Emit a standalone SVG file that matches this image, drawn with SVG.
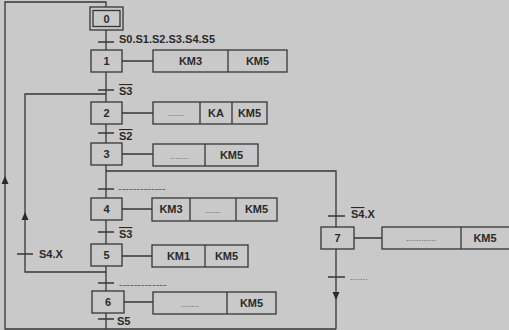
<svg xmlns="http://www.w3.org/2000/svg" width="509" height="330" viewBox="0 0 509 330">
<style>
.ln{fill:none;stroke:#363636;stroke-width:1.3}
.bx{fill:#c9c9c9;stroke:#363636;stroke-width:1.3}
.t{font-family:"Liberation Sans",Arial,sans-serif;font-weight:bold;font-size:11px;fill:#2a2a2a}
.c{text-anchor:middle}
.d{font-family:"Liberation Sans",Arial,sans-serif;font-size:9px;fill:#5e5e5e;text-anchor:middle}
.ds{font-family:"Liberation Sans",Arial,sans-serif;font-size:11px;fill:#5e5e5e}
.ah{fill:#2a2a2a}
.ov{text-decoration:overline}
</style>
<rect width="509" height="330" fill="#c9c9c9"/>
<g id="connectors">
  <path class="ln" d="M106,7 V2 H5 V329 H336"/>
  <path class="ln" d="M106,30 V329"/>
  <path class="ln" d="M106,171 H336 V329"/>
  <path class="ln" d="M106,272 H25 V94 H106"/>
  <path class="ah" d="M5,176 L8.5,184 L1.5,184 Z"/>
  <path class="ah" d="M25,212 L28.5,220 L21.5,220 Z"/>
  <path class="ah" d="M336,300 L332.5,292 L339.5,292 Z"/>
  <path class="ln" d="M98,42 H114 M98,90 H114 M98,133 H114 M98,189 H114 M98,232 H114 M98,283 H114 M98,319 H114 M17,254 H33 M328,216 H345 M328,277 H345"/>
  <path class="ln" d="M122,61 H153 M122,113 H153 M122,154 H153 M122,209 H152 M122,256 H152 M124,302 H153 M354,238 H382"/>
</g>
<g id="transition-labels">
  <text class="t" x="119" y="43">S0.S1.S2.S3.S4.S5</text>
  <text class="t ov" x="119" y="95">S3</text>
  <text class="t ov" x="119" y="140">S2</text>
  <text class="ds" x="118" y="192">-------------</text>
  <text class="t ov" x="119" y="238">S3</text>
  <text class="ds" x="119" y="288">-------------</text>
  <text class="t" x="117" y="325">S5</text>
  <text class="t" x="39" y="258">S4.X</text>
  <text class="t" x="351" y="218"><tspan class="ov">S4</tspan>.X</text>
  <text class="d" x="350" y="280" style="text-anchor:start">.......</text>
</g>
<g id="step0">
  <rect class="bx" x="90" y="7" width="33" height="23"/>
  <rect class="bx" x="93" y="10.5" width="27" height="16"/>
  <text class="t c" x="106.5" y="23">0</text>
</g>
<g id="step1">
  <rect class="bx" x="91" y="50" width="31" height="22"/>
  <text class="t c" x="106.5" y="65">1</text>
</g>
<g id="action1">
  <rect class="bx" x="153" y="50" width="134" height="22"/>
  <path class="ln" d="M228,50 V72"/>
  <text class="t c" x="190.5" y="65">KM3</text>
  <text class="t c" x="257.5" y="65">KM5</text>
</g>
<g id="step2">
  <rect class="bx" x="91" y="102" width="31" height="22"/>
  <text class="t c" x="106.5" y="117">2</text>
</g>
<g id="action2">
  <rect class="bx" x="153" y="102" width="114" height="22"/>
  <path class="ln" d="M200,102 V124 M232,102 V124"/>
  <text class="d" x="176" y="116">.......</text>
  <text class="t c" x="216" y="117">KA</text>
  <text class="t c" x="249.5" y="117">KM5</text>
</g>
<g id="step3">
  <rect class="bx" x="91" y="143" width="31" height="22"/>
  <text class="t c" x="106.5" y="158">3</text>
</g>
<g id="action3">
  <rect class="bx" x="153" y="144" width="105" height="22"/>
  <path class="ln" d="M205,144 V166"/>
  <text class="d" x="179" y="159">.......</text>
  <text class="t c" x="231.5" y="159">KM5</text>
</g>
<g id="step4">
  <rect class="bx" x="91" y="198" width="31" height="22"/>
  <text class="t c" x="106.5" y="213">4</text>
</g>
<g id="action4">
  <rect class="bx" x="152" y="198" width="125" height="23"/>
  <path class="ln" d="M190,198 V221 M236,198 V221"/>
  <text class="t c" x="171" y="213">KM3</text>
  <text class="d" x="213" y="213">......</text>
  <text class="t c" x="256.5" y="213">KM5</text>
</g>
<g id="step5">
  <rect class="bx" x="91" y="244" width="31" height="22"/>
  <text class="t c" x="106.5" y="259">5</text>
</g>
<g id="action5">
  <rect class="bx" x="152" y="245" width="96" height="22"/>
  <path class="ln" d="M205,245 V267"/>
  <text class="t c" x="178.5" y="260">KM1</text>
  <text class="t c" x="226.5" y="260">KM5</text>
</g>
<g id="step6">
  <rect class="bx" x="92" y="291" width="32" height="22"/>
  <text class="t c" x="108" y="306">6</text>
</g>
<g id="action6">
  <rect class="bx" x="153" y="292" width="123" height="22"/>
  <path class="ln" d="M227,292 V314"/>
  <text class="d" x="190" y="307">.......</text>
  <text class="t c" x="251.5" y="307">KM5</text>
</g>
<g id="step7">
  <rect class="bx" x="321" y="227" width="33" height="22"/>
  <text class="t c" x="337.5" y="242">7</text>
</g>
<g id="action7">
  <rect class="bx" x="382" y="227" width="135" height="22"/>
  <path class="ln" d="M461,227 V249"/>
  <text class="d" x="421" y="241">............</text>
  <text class="t c" x="485" y="242">KM5</text>
</g>
</svg>
